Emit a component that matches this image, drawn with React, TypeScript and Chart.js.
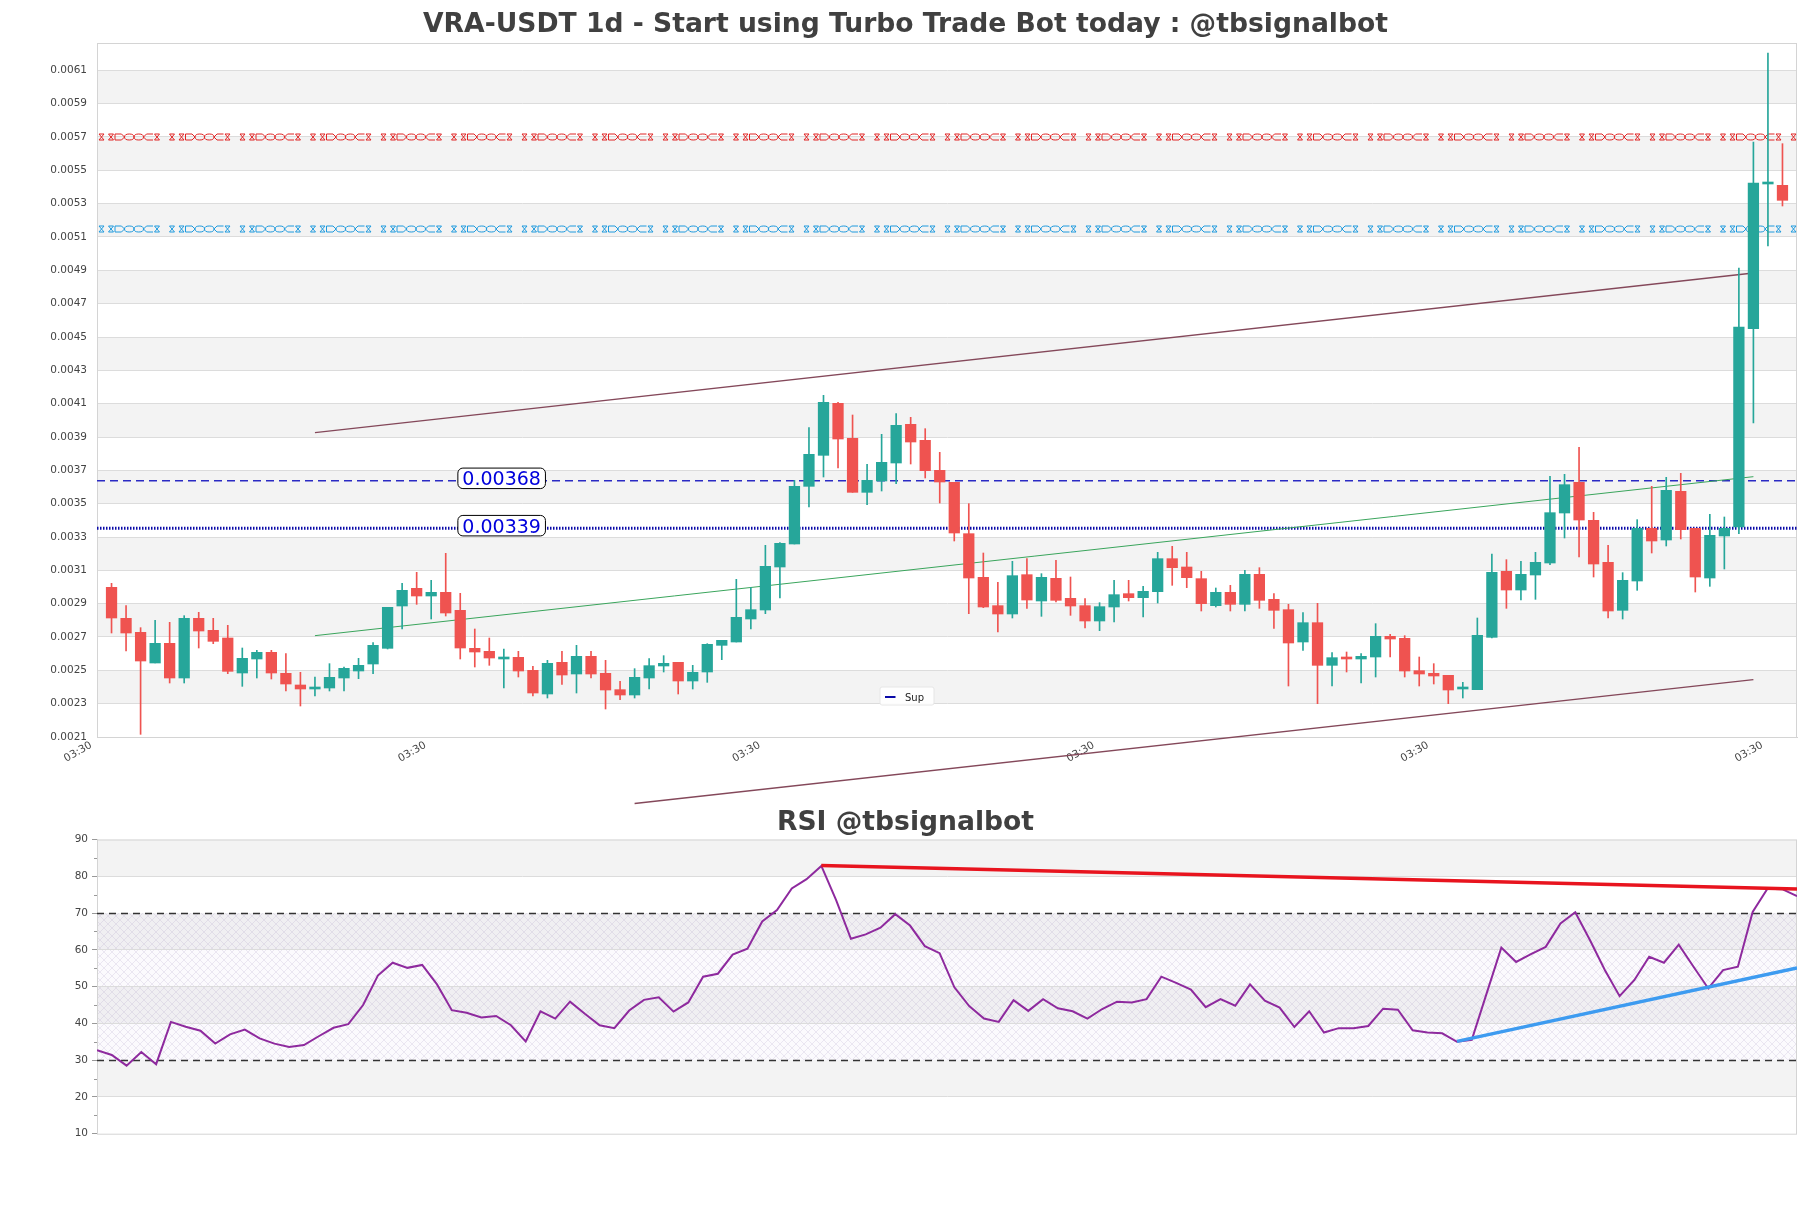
import React, { useEffect, useRef } from "react";
import { Chart, registerables } from "chart.js";

Chart.register(...registerables);

const FONT = '"DejaVu Sans", "Liberation Sans", sans-serif';

const TITLE = "VRA-USDT 1d - Start using Turbo Trade Bot today : @tbsignalbot";
const RSI_TITLE = "RSI @tbsignalbot";

const candleOpen = [
  0.002998, 0.002812, 0.002728, 0.002544, 0.002662, 0.002454, 0.002812, 0.00274, 0.002694, 0.002484,
  0.002568, 0.002608, 0.002482, 0.002412, 0.002388, 0.002394, 0.002454, 0.002496, 0.002538, 0.002632,
  0.002886, 0.002992, 0.002946, 0.002968, 0.00286, 0.002632, 0.002614, 0.002568, 0.002578, 0.0025,
  0.002358, 0.002548, 0.002478, 0.002584, 0.002482, 0.002384, 0.002352, 0.002454, 0.002526, 0.002548,
  0.002436, 0.00249, 0.00265, 0.00267, 0.002808, 0.002862, 0.00312, 0.003258, 0.003604, 0.00379,
  0.004102, 0.003892, 0.003568, 0.003636, 0.003744, 0.003976, 0.00388, 0.0037, 0.003628, 0.00332,
  0.003058, 0.002888, 0.002838, 0.003074, 0.002916, 0.003052, 0.002932, 0.002888, 0.002796, 0.00288,
  0.00296, 0.002936, 0.002972, 0.00317, 0.00312, 0.00305, 0.002888, 0.002968, 0.002896, 0.003076,
  0.002926, 0.002864, 0.00267, 0.002786, 0.00253, 0.00258, 0.002568, 0.00258, 0.002704, 0.002692,
  0.002498, 0.002482, 0.00247, 0.002388, 0.002384, 0.002698, 0.003094, 0.002982, 0.003072, 0.003144,
  0.003444, 0.003628, 0.0034, 0.003148, 0.00286, 0.003036, 0.003352, 0.003282, 0.003574, 0.003352,
  0.003054, 0.003306, 0.00336, 0.00455, 0.005418, 0.00541,
];
const candleHigh = [
  0.003022, 0.002888, 0.002756, 0.0028, 0.002788, 0.002828, 0.002848, 0.002812, 0.00277, 0.002634,
  0.00262, 0.00262, 0.0026, 0.002488, 0.00246, 0.00254, 0.00252, 0.002572, 0.002666, 0.002878,
  0.003022, 0.003088, 0.00304, 0.003202, 0.002962, 0.002748, 0.002694, 0.002628, 0.002614, 0.002524,
  0.00256, 0.002614, 0.00265, 0.002614, 0.00256, 0.002434, 0.00251, 0.00257, 0.002588, 0.002548,
  0.00253, 0.00266, 0.00268, 0.003046, 0.002996, 0.00325, 0.003266, 0.00364, 0.003956, 0.00415,
  0.004108, 0.004032, 0.003736, 0.003916, 0.00404, 0.004018, 0.00395, 0.003808, 0.003628, 0.0035,
  0.003204, 0.003028, 0.003154, 0.00317, 0.00308, 0.00316, 0.00306, 0.00293, 0.002906, 0.00304,
  0.00304, 0.003004, 0.003208, 0.003244, 0.003208, 0.003094, 0.002994, 0.00301, 0.0031, 0.003116,
  0.00296, 0.002896, 0.002846, 0.002902, 0.002606, 0.00261, 0.0026, 0.00278, 0.002716, 0.002708,
  0.00258, 0.00254, 0.00247, 0.002428, 0.002814, 0.003198, 0.003164, 0.003154, 0.003208, 0.003664,
  0.003676, 0.003838, 0.003448, 0.00325, 0.003086, 0.003404, 0.003604, 0.003658, 0.003682, 0.003352,
  0.003436, 0.00342, 0.004914, 0.00567, 0.006204, 0.00566,
];
const candleLow = [
  0.002724, 0.002616, 0.002116, 0.002544, 0.002424, 0.002424, 0.002634, 0.00266, 0.00248, 0.002404,
  0.002454, 0.002448, 0.002376, 0.002286, 0.002346, 0.002376, 0.002376, 0.00245, 0.00248, 0.002628,
  0.002748, 0.002896, 0.002808, 0.002826, 0.002568, 0.00252, 0.00253, 0.002394, 0.00246, 0.002346,
  0.002334, 0.002416, 0.002364, 0.002454, 0.002268, 0.002324, 0.002334, 0.002388, 0.00249, 0.002358,
  0.002388, 0.002428, 0.002564, 0.00267, 0.002748, 0.00284, 0.002934, 0.003258, 0.00348, 0.00366,
  0.003714, 0.003568, 0.003494, 0.003576, 0.00362, 0.003738, 0.003654, 0.003504, 0.003276, 0.00284,
  0.002876, 0.00273, 0.002814, 0.002872, 0.002824, 0.00291, 0.00283, 0.002754, 0.002738, 0.00279,
  0.002916, 0.00282, 0.002904, 0.00301, 0.002996, 0.002856, 0.00288, 0.002856, 0.002856, 0.002872,
  0.002752, 0.002406, 0.00262, 0.0023, 0.002406, 0.00249, 0.002424, 0.00246, 0.00258, 0.00246,
  0.002406, 0.002418, 0.0023, 0.002334, 0.002384, 0.002694, 0.002872, 0.002922, 0.002926, 0.003134,
  0.003294, 0.00318, 0.00306, 0.002814, 0.002808, 0.00298, 0.003204, 0.003246, 0.003288, 0.00297,
  0.003004, 0.003108, 0.00332, 0.003984, 0.005046, 0.005286,
];
const candleClose = [
  0.002814, 0.002724, 0.002556, 0.002662, 0.002454, 0.002812, 0.002736, 0.002674, 0.002494, 0.002572,
  0.002608, 0.002484, 0.002418, 0.002388, 0.0024, 0.002458, 0.002512, 0.00253, 0.00265, 0.002878,
  0.00298, 0.002946, 0.002968, 0.002844, 0.002634, 0.00261, 0.002574, 0.00258, 0.002496, 0.002364,
  0.002542, 0.002472, 0.002584, 0.002478, 0.002382, 0.002352, 0.002458, 0.002528, 0.002542, 0.002436,
  0.002488, 0.002656, 0.00268, 0.002818, 0.002864, 0.003124, 0.003262, 0.003604, 0.003796, 0.004108,
  0.003888, 0.003568, 0.00364, 0.003748, 0.00397, 0.00387, 0.003698, 0.00363, 0.003324, 0.003054,
  0.00288, 0.002838, 0.003068, 0.002922, 0.003058, 0.00292, 0.002886, 0.002796, 0.002882, 0.002954,
  0.002936, 0.002974, 0.00317, 0.003116, 0.003056, 0.0029, 0.002968, 0.002896, 0.003076, 0.00292,
  0.00286, 0.002664, 0.002786, 0.00253, 0.002576, 0.002568, 0.002584, 0.002704, 0.002688, 0.002496,
  0.002478, 0.002466, 0.002382, 0.0024, 0.00271, 0.003088, 0.002982, 0.003076, 0.003148, 0.003446,
  0.003614, 0.003402, 0.003138, 0.002856, 0.00304, 0.003352, 0.003276, 0.00358, 0.003344, 0.00306,
  0.00331, 0.003352, 0.00456, 0.005424, 0.005424, 0.00532,
];

const rsiValues = [
  32.7, 31.4, 28.5, 32.2, 28.9, 40.4, 39.1, 38.0, 34.5, 37.0,
  38.3, 35.9, 34.5, 33.6, 34.1, 36.5, 38.8, 39.8, 45.0, 53.0,
  56.5, 55.1, 55.9, 50.6, 43.6, 42.9, 41.6, 42.0, 39.5, 35.1,
  43.3, 41.3, 45.9, 42.6, 39.5, 38.7, 43.5, 46.4, 47.1, 43.2,
  45.7, 52.7, 53.5, 58.7, 60.3, 67.7, 70.8, 76.7, 79.2, 82.8,
  73.5, 63.0, 64.2, 66.0, 69.7, 66.6, 61.0, 59.1, 49.8, 44.7,
  41.3, 40.4, 46.3, 43.4, 46.6, 44.1, 43.3, 41.3, 43.9, 45.9,
  45.7, 46.6, 52.7, 51.0, 49.2, 44.4, 46.6, 44.8, 50.6, 46.2,
  44.3, 39.0, 43.3, 37.5, 38.7, 38.7, 39.3, 44.0, 43.7, 38.1,
  37.5, 37.3, 35.0, 35.5, 48.1, 60.6, 56.7, 58.8, 60.8, 67.2,
  70.2, 62.6, 54.5, 47.4, 51.8, 58.1, 56.5, 61.4, 55.4, 49.5,
  54.5, 55.4, 70.3, 76.6, 76.5, 74.6,
];

const priceTickValues = [
  0.0021, 0.0023, 0.0025, 0.0027, 0.0029, 0.0031, 0.0033, 0.0035, 0.0037, 0.0039, 0.0041,
  0.0043, 0.0045, 0.0047, 0.0049, 0.0051, 0.0053, 0.0055, 0.0057, 0.0059, 0.0061,
];
const priceBands = [
  [0.0023, 0.0025], [0.0027, 0.0029], [0.0031, 0.0033], [0.0035, 0.0037], [0.0039, 0.0041],
  [0.0043, 0.0045], [0.0047, 0.0049], [0.0051, 0.0053], [0.0055, 0.0057], [0.0059, 0.0061],
];
const xTickPositions = [-1.4, 21.6, 44.6, 67.6, 90.6, 113.6];
const xTickLabels = ["03:30", "03:30", "03:30", "03:30", "03:30", "03:30"];

const resistanceLevel = 0.0057;
const upperPatternLevel = 0.005148;
const dashedLevel = 0.003637;
const dashedLabel = "0.00368";
const supLevel = 0.003353;
const supLabel = "0.00339";
const levelLabelX = 26.85;

const upperChannel = [{ x: 14, y: 0.003926 }, { x: 113, y: 0.004884 }];
const midChannel = [{ x: 14, y: 0.002708 }, { x: 113, y: 0.003662 }];
const lowerChannel = [{ x: 36, y: 0.001701 }, { x: 113, y: 0.002444 }];

const rsiTickValues = [10, 20, 30, 40, 50, 60, 70, 80, 90];
const rsiMinorTicks = [15, 25, 35, 45, 55, 65, 75, 85];
const rsiGridValues = [20, 40, 50, 60, 80];
const rsiBands = [[20, 30], [40, 50], [60, 70], [80, 90]];
const rsiHatchRange = [30, 70];
const rsiLevels = [70, 30];
const rsiResistance = [{ x: 49, y: 82.9 }, { x: 115, y: 76.55 }];
const rsiSupport = [{ x: 92, y: 35.1 }, { x: 115, y: 55.1 }];

const GREEN = "#26a69a";
const RED = "#ef5350";

function hourglass(ctx: CanvasRenderingContext2D, cx: number, y: number) {
  ctx.beginPath();
  ctx.moveTo(cx - 2.5, y - 3);
  ctx.lineTo(cx + 2.5, y - 3);
  ctx.lineTo(cx - 2.5, y + 3);
  ctx.lineTo(cx + 2.5, y + 3);
  ctx.closePath();
  ctx.stroke();
}

function chain(ctx: CanvasRenderingContext2D, xa: number, xb: number, y: number) {
  const n = 4;
  const w = (xb - xa) / n;
  for (let k = 0; k < n; k++) {
    const a = xa + k * w;
    ctx.beginPath();
    if (k === 0) {
      // "D" like shape
      ctx.moveTo(a, y - 3);
      ctx.lineTo(a + w - 3, y - 3);
      ctx.lineTo(a + w, y);
      ctx.lineTo(a + w - 3, y + 3);
      ctx.lineTo(a, y + 3);
      ctx.closePath();
    } else if (k === n - 1) {
      // "C" like shape
      ctx.moveTo(a + w, y - 3);
      ctx.lineTo(a + 3, y - 3);
      ctx.lineTo(a, y);
      ctx.lineTo(a + 3, y + 3);
      ctx.lineTo(a + w, y + 3);
    } else {
      ctx.ellipse(a + w / 2, y, w / 2, 3, 0, 0, Math.PI * 2);
    }
    ctx.stroke();
  }
}

function patternLine(ctx: CanvasRenderingContext2D, area: any, y: number, color: string) {
  ctx.save();
  ctx.beginPath();
  ctx.rect(area.left, area.top, area.right - area.left, area.bottom - area.top);
  ctx.clip();
  ctx.strokeStyle = color;
  ctx.lineWidth = 1;
  const period = 70.5;
  for (let p = area.left + 2; p < area.right; p += period) {
    hourglass(ctx, p + 2.5, y);
    hourglass(ctx, p + 12, y);
    chain(ctx, p + 16, p + 54, y);
    hourglass(ctx, p + 58, y);
  }
  ctx.restore();
}

function roundRectPath(ctx: CanvasRenderingContext2D, x: number, y: number, w: number, h: number, r: number) {
  ctx.beginPath();
  ctx.moveTo(x + r, y);
  ctx.lineTo(x + w - r, y);
  ctx.arcTo(x + w, y, x + w, y + r, r);
  ctx.lineTo(x + w, y + h - r);
  ctx.arcTo(x + w, y + h, x + w - r, y + h, r);
  ctx.lineTo(x + r, y + h);
  ctx.arcTo(x, y + h, x, y + h - r, r);
  ctx.lineTo(x, y + r);
  ctx.arcTo(x, y, x + r, y, r);
  ctx.closePath();
}

const mainPlugin = {
  id: "mainDecor",
  beforeDraw(chart: any) {
    const { ctx, chartArea: a, scales } = chart;
    const ys = scales.y;
    ctx.save();
    ctx.fillStyle = "#f3f3f3";
    priceBands.forEach(([lo, hi]) => {
      const t = ys.getPixelForValue(hi);
      const b = ys.getPixelForValue(lo);
      ctx.fillRect(a.left, t, a.right - a.left, b - t);
    });
    ctx.restore();
  },
  beforeDatasetsDraw(chart: any) {
    const { ctx, chartArea: a, scales } = chart;
    const ys = scales.y;
    ctx.save();
    ctx.strokeStyle = "#d4d4d4";
    ctx.lineWidth = 1;
    ctx.strokeRect(a.left + 0.5, a.top + 0.5, a.right - a.left - 1, a.bottom - a.top);
    ctx.restore();
    patternLine(ctx, a, ys.getPixelForValue(resistanceLevel), "#e02424");
    patternLine(ctx, a, ys.getPixelForValue(upperPatternLevel), "#1e9ade");
  },
  afterDatasetsDraw(chart: any) {
    const { ctx, scales } = chart;
    const xs = scales.x;
    const ys = scales.y;
    const items = [
      [dashedLevel, dashedLabel],
      [supLevel, supLabel],
    ];
    ctx.save();
    ctx.font = `19px ${FONT}`;
    items.forEach(([lvl, label]) => {
      const cx = xs.getPixelForValue(levelLabelX);
      const cy = ys.getPixelForValue(lvl as number) - 2.5;
      const tw = ctx.measureText(label as string).width;
      const w = tw + 9;
      const h = 20.5;
      roundRectPath(ctx, cx - w / 2, cy - h / 2, w, h, 5);
      ctx.fillStyle = "#ffffff";
      ctx.fill();
      ctx.strokeStyle = "#000000";
      ctx.lineWidth = 1;
      ctx.stroke();
      ctx.fillStyle = "#0000dc";
      ctx.textAlign = "center";
      ctx.textBaseline = "alphabetic";
      ctx.fillText(label as string, cx, cy + 7);
    });
    ctx.restore();
  },
  afterDraw(chart: any) {
    const { ctx, chartArea: a, width } = chart;
    ctx.save();
    ctx.font = `bold 26.6px ${FONT}`;
    ctx.fillStyle = "#404040";
    ctx.textAlign = "center";
    ctx.textBaseline = "alphabetic";
    ctx.fillText(TITLE, width / 2, 32);
    // legend
    const lx = a.left + 783;
    const ly = a.bottom - 50;
    roundRectPath(ctx, lx, ly, 54, 18, 2);
    ctx.fillStyle = "rgba(255,255,255,0.9)";
    ctx.fill();
    ctx.strokeStyle = "#e6e6e6";
    ctx.lineWidth = 1;
    ctx.stroke();
    ctx.strokeStyle = "#0a0aa8";
    ctx.lineWidth = 2;
    ctx.beginPath();
    ctx.moveTo(lx + 5, ly + 10);
    ctx.lineTo(lx + 15.5, ly + 10);
    ctx.stroke();
    ctx.fillStyle = "#222";
    ctx.font = `10px ${FONT}`;
    ctx.textAlign = "left";
    ctx.fillText("Sup", lx + 25, ly + 13.5);
    ctx.restore();
  },
};

function makeHatch(): CanvasPattern | string {
  const pc = document.createElement("canvas");
  pc.width = 8;
  pc.height = 8;
  const p = pc.getContext("2d");
  if (!p) return "rgba(0,0,0,0)";
  p.strokeStyle = "rgba(175,160,195,0.32)";
  p.lineWidth = 0.7;
  p.beginPath();
  p.moveTo(0, 0);
  p.lineTo(8, 8);
  p.moveTo(8, 0);
  p.lineTo(0, 8);
  p.stroke();
  const pat = p.createPattern(pc, "repeat");
  return pat || "rgba(0,0,0,0)";
}

const rsiPlugin = {
  id: "rsiDecor",
  beforeDraw(chart: any) {
    const { ctx, chartArea: a, scales } = chart;
    const ys = scales.y;
    ctx.save();
    ctx.fillStyle = "#f3f3f3";
    rsiBands.forEach(([lo, hi]) => {
      const t = ys.getPixelForValue(hi);
      const b = ys.getPixelForValue(lo);
      ctx.fillRect(a.left, t, a.right - a.left, b - t);
    });
    const ht = ys.getPixelForValue(rsiHatchRange[1]);
    const hb = ys.getPixelForValue(rsiHatchRange[0]);
    ctx.fillStyle = "rgba(215,195,230,0.09)";
    ctx.fillRect(a.left, ht, a.right - a.left, hb - ht);
    ctx.fillStyle = makeHatch();
    ctx.fillRect(a.left, ht, a.right - a.left, hb - ht);
    ctx.restore();
  },
  beforeDatasetsDraw(chart: any) {
    const { ctx, chartArea: a, scales } = chart;
    const ys = scales.y;
    ctx.save();
    ctx.strokeStyle = "#d4d4d4";
    ctx.lineWidth = 1;
    ctx.strokeRect(a.left + 0.5, a.top + 0.5, a.right - a.left - 1, a.bottom - a.top);
    ctx.strokeStyle = "#333";
    ctx.lineWidth = 1.3;
    ctx.setLineDash([7, 5]);
    rsiLevels.forEach((v) => {
      const y = Math.round(ys.getPixelForValue(v)) + 0.5;
      ctx.beginPath();
      ctx.moveTo(a.left, y);
      ctx.lineTo(a.right, y);
      ctx.stroke();
    });
    ctx.restore();
  },
  afterDraw(chart: any) {
    const { ctx, chartArea: a, scales, width } = chart;
    const ys = scales.y;
    ctx.save();
    ctx.strokeStyle = "#999";
    ctx.lineWidth = 1;
    rsiMinorTicks.forEach((v) => {
      const y = Math.round(ys.getPixelForValue(v)) + 0.5;
      ctx.beginPath();
      ctx.moveTo(a.left - 3, y);
      ctx.lineTo(a.left, y);
      ctx.stroke();
    });
    ctx.font = `bold 26.6px ${FONT}`;
    ctx.fillStyle = "#404040";
    ctx.textAlign = "center";
    ctx.textBaseline = "alphabetic";
    ctx.fillText(RSI_TITLE, width / 2, 29.5);
    ctx.restore();
  },
};

export default function App() {
  const mainRef = useRef<HTMLCanvasElement>(null);
  const rsiRef = useRef<HTMLCanvasElement>(null);

  useEffect(() => {
    Chart.defaults.font.family = FONT;
    const idx = candleOpen.map((_, i) => i);
    const colors = idx.map((i) => (candleClose[i] >= candleOpen[i] ? GREEN : RED));

    const mainChart = new Chart(mainRef.current as HTMLCanvasElement, {
      type: "bar",
      data: {
        datasets: [
          {
            type: "bar",
            label: "body",
            data: idx.map((i) => ({ x: i, y: [candleOpen[i], candleClose[i]] })),
            backgroundColor: colors,
            borderWidth: 0,
            barThickness: 10.6,
            minBarLength: 2,
            grouped: false,
            order: 1,
          },
          {
            type: "bar",
            label: "wick",
            data: idx.map((i) => ({ x: i, y: [candleLow[i], candleHigh[i]] })),
            backgroundColor: colors,
            borderWidth: 0,
            barThickness: 1,
            grouped: false,
            order: 2,
          },
          {
            type: "line",
            label: "upper",
            data: upperChannel,
            borderColor: "#84485a",
            borderWidth: 1.3,
            pointRadius: 0,
            order: 3,
          },
          {
            type: "line",
            label: "mid",
            data: midChannel,
            borderColor: "#3aa55c",
            borderWidth: 1,
            pointRadius: 0,
            order: 3,
          },
          {
            type: "line",
            label: "lower",
            data: lowerChannel,
            borderColor: "#84485a",
            borderWidth: 1.3,
            pointRadius: 0,
            clip: false,
            order: 3,
          },
          {
            type: "line",
            label: "Sup",
            data: [{ x: -1, y: supLevel }, { x: 116, y: supLevel }],
            borderColor: "#0a0aa8",
            borderWidth: 3,
            borderDash: [1.5, 1.5],
            pointRadius: 0,
            order: 4,
          },
          {
            type: "line",
            label: "level",
            data: [{ x: -1, y: dashedLevel }, { x: 116, y: dashedLevel }],
            borderColor: "#2a2ac4",
            borderWidth: 1.5,
            borderDash: [8, 5],
            pointRadius: 0,
            order: 4,
          },
        ],
      } as any,
      options: {
        animation: false,
        responsive: false,
        maintainAspectRatio: false,
        devicePixelRatio: 1,
        layout: { padding: { top: 43, right: 14, left: 0, bottom: 0 } },
        plugins: {
          legend: { display: false },
          tooltip: { enabled: false },
          title: { display: false },
        },
        scales: {
          x: {
            type: "linear",
            min: -1,
            max: 116,
            offset: false,
            afterFit: (s: any) => {
              s.height = 73;
            },
            afterBuildTicks: (s: any) => {
              s.ticks = xTickPositions.map((v) => ({ value: v }));
            },
            ticks: {
              autoSkip: false,
              minRotation: 30,
              maxRotation: 30,
              padding: 2,
              color: "#444",
              font: { family: FONT, size: 10.5 },
              callback: (_v: any, i: number) => xTickLabels[i] ?? "",
            },
            grid: { display: false, drawTicks: false, offset: false },
            border: { display: true, color: "#d4d4d4" },
          },
          y: {
            type: "linear",
            min: 0.0021,
            max: 0.006264,
            afterFit: (s: any) => {
              s.width = 97;
            },
            afterBuildTicks: (s: any) => {
              s.ticks = priceTickValues.map((v) => ({ value: v }));
            },
            ticks: {
              autoSkip: false,
              padding: 10,
              color: "#444",
              font: { family: FONT, size: 10.5 },
              callback: (v: any) => Number(v).toFixed(4),
            },
            grid: { color: "#dcdcdc", drawTicks: false, lineWidth: 1 },
            border: { display: true, color: "#d4d4d4" },
          },
        },
      } as any,
      plugins: [mainPlugin],
    });

    const rsiChart = new Chart(rsiRef.current as HTMLCanvasElement, {
      type: "line",
      data: {
        datasets: [
          {
            label: "RSI res",
            data: rsiResistance,
            borderColor: "#e8141e",
            borderWidth: 3.5,
            pointRadius: 0,
            order: 1,
          },
          {
            label: "RSI sup",
            data: rsiSupport,
            borderColor: "#3d9bf0",
            borderWidth: 3.5,
            pointRadius: 0,
            order: 1,
          },
          {
            label: "RSI",
            data: rsiValues.map((v, i) => ({ x: i, y: v })),
            borderColor: "#8e2a9e",
            borderWidth: 2,
            pointRadius: 0,
            order: 2,
          },
        ],
      } as any,
      options: {
        animation: false,
        responsive: false,
        maintainAspectRatio: false,
        devicePixelRatio: 1,
        layout: { padding: { top: 39.5, right: 14, left: 0, bottom: 74.3 } },
        plugins: {
          legend: { display: false },
          tooltip: { enabled: false },
          title: { display: false },
        },
        scales: {
          x: { type: "linear", min: 0, max: 115, display: false },
          y: {
            type: "linear",
            min: 10,
            max: 90,
            afterFit: (s: any) => {
              s.width = 97;
            },
            afterBuildTicks: (s: any) => {
              s.ticks = rsiTickValues.map((v) => ({ value: v }));
            },
            ticks: {
              autoSkip: false,
              padding: 4,
              color: "#444",
              font: { family: FONT, size: 10.5 },
              callback: (v: any) => String(v),
            },
            grid: {
              color: (c: any) =>
                c.tick && rsiGridValues.includes(c.tick.value) ? "#dcdcdc" : "rgba(0,0,0,0)",
              tickColor: "#999",
              tickLength: 5,
              drawTicks: true,
            },
            border: { display: true, color: "#d4d4d4" },
          },
        },
      } as any,
      plugins: [rsiPlugin],
    });

    return () => {
      mainChart.destroy();
      rsiChart.destroy();
    };
  }, []);

  return (
    <div style={{ position: "absolute", left: 0, top: 0, width: 1811, height: 1208, background: "#ffffff" }}>
      <canvas
        ref={mainRef}
        width={1811}
        height={810}
        style={{ position: "absolute", left: 0, top: 0, width: 1811, height: 810 }}
      />
      <canvas
        ref={rsiRef}
        width={1811}
        height={408}
        style={{ position: "absolute", left: 0, top: 800, width: 1811, height: 408 }}
      />
    </div>
  );
}
